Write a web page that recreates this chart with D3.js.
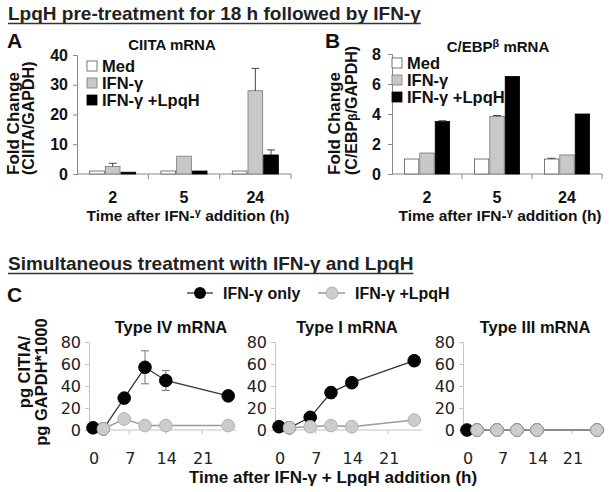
<!DOCTYPE html>
<html><head><meta charset="utf-8">
<script src="https://cdn.jsdelivr.net/npm/d3@7"></script>
<style>html,body{margin:0;padding:0;background:#fff;}svg{display:block;}</style>
</head><body>
<script>
// ---------- data ----------
const timeCats = ["2", "5", "24"];
const barSeries = ["Med", "IFN-γ", "IFN-γ +LpqH"];
const ciitaMed  = [1.0, 1.0, 1.0];
const ciitaIFN  = [2.5, 6.0, 28.0];
const ciitaLpqH = [0.6, 1.0, 6.4];
const ciitaMedErr  = [0, 0, 0];
const ciitaIFNErr  = [1.1, 0, 7.5];
const ciitaLpqHErr = [0, 0, 1.7];
const cebpMed  = [1.0, 1.0, 1.0];
const cebpIFN  = [1.4, 3.83, 1.27];
const cebpLpqH = [3.5, 6.5, 4.0];
const cebpMedErr  = [0, 0, 0.05];
const cebpIFNErr  = [0, 0.07, 0];
const cebpLpqHErr = [0.05, 0, 0];
const ciitaTicks = [0, 10, 20, 30, 40];
const cebpTicks = [0, 2, 4, 6, 8];

const hoursIFN  = [0, 2, 6, 10, 14, 26];
const hoursLpqH = [2, 6, 10, 14, 26];
const typeIV_IFN  = [2, 1, 29, 57, 45, 31];
const typeIV_IFNErr = [0, 0, 0, 15, 9, 0];
const typeIV_LpqH = [1, 10, 4, 4, 4];
const typeI_IFN  = [3, 2, 11.5, 34, 43, 63];
const typeI_IFNErr = [0, 0, 2, 5, 0, 0];
const typeI_LpqH = [2, 3, 4, 3, 9];
const typeIII_IFN  = [0, 0, 0, 0, 0, 0];
const typeIII_LpqH = [0, 0, 0, 0, 0];
const cYTicks = [0, 20, 40, 60, 80];
const cXTicks = [0, 7, 14, 21];
const lineSeries = ["IFN-γ only", "IFN-γ +LpqH"];

// ---------- setup ----------
const W = 609, H = 492;
const svg = d3.select("body").append("svg").attr("width", W).attr("height", H);
const FB = "'Liberation Sans', Arial, Helvetica, sans-serif";
const FR = "'DejaVu Sans', Verdana, sans-serif";

function txt(x, y, s, size, opts = {}) {
  const t = svg.append("text").attr("x", x).attr("y", y)
    .attr("font-family", opts.family || FB)
    .attr("font-weight", opts.weight || "bold")
    .attr("font-size", size).attr("fill", opts.fill || "#111")
    .attr("text-anchor", opts.anchor || "start");
  if (opts.rotate) t.attr("transform", `rotate(-90,${x},${y})`);
  if (opts.baseline) t.attr("dominant-baseline", opts.baseline);
  if (Array.isArray(s)) {
    s.forEach(p => {
      const ts = t.append("tspan").text(p.t);
      if (p.size) ts.attr("font-size", p.size);
      if (p.dy) ts.attr("dy", p.dy);
    });
  } else t.text(s);
  return t;
}

// section titles with underline
function sectionTitle(x, y, s) {
  const t = txt(x, y, s, 19, {fill: "#222"});
  const w = t.node().getComputedTextLength();
  svg.append("line").attr("x1", x).attr("x2", x + w).attr("y1", y + 3.5).attr("y2", y + 3.5)
    .attr("stroke", "#333").attr("stroke-width", 1.6);
}
sectionTitle(8, 20, "LpqH pre-treatment for 18 h followed by IFN-γ");
sectionTitle(8, 270, "Simultaneous treatment with IFN-γ and LpqH");

txt(7, 48, "A", 21);
txt(325, 48, "B", 21);
txt(7, 302, "C", 21);

// ---------- bar panels ----------
const fills = ["#ffffff", "#c8c8c8", "#000000"];
const strokes = ["#555", "#777", "#000"];

function barPanel(cfg) {
  const x = d3.scaleBand().domain(timeCats).range([cfg.x0, cfg.x1]).paddingInner(0.34).paddingOuter(0.17);
  const xs = d3.scaleBand().domain(barSeries).range([0, x.bandwidth()]);
  const y = d3.scaleLinear().domain([0, cfg.ticks[cfg.ticks.length - 1]]).range([cfg.yb, cfg.yt]);
  const g = svg.append("g");
  // y axis
  const ya = g.append("g").attr("transform", `translate(${cfg.x0},0)`)
    .call(d3.axisLeft(y).tickValues(cfg.ticks).tickSize(4).tickFormat(d3.format("d")));
  ya.select(".domain").attr("stroke", "#888");
  ya.selectAll(".tick line").attr("stroke", "#888");
  ya.selectAll(".tick text").attr("font-family", FB).attr("font-weight", "bold").attr("font-size", 16)
    .attr("fill", "#111").attr("x", -cfg.labGap);
  // x baseline with category separators
  g.append("line").attr("x1", cfg.x0).attr("x2", cfg.x1).attr("y1", y(0)).attr("y2", y(0)).attr("stroke", "#888");
  const seps = timeCats.map(c => x(c) - x.step() * x.paddingInner() / 2).slice(1).concat([cfg.x1]);
  seps.forEach(sx => g.append("line").attr("x1", sx).attr("x2", sx).attr("y1", y(0)).attr("y2", y(0) + 5).attr("stroke", "#888"));
  timeCats.forEach(c => txt(x(c) + x.bandwidth() / 2, 203, c, 16, {anchor: "middle"}));
  // bars
  cfg.vals.forEach((arr, si) => {
    arr.forEach((v, ci) => {
      const bx = x(timeCats[ci]) + xs(barSeries[si]);
      g.append("rect").attr("x", bx + 0.5).attr("y", y(v)).attr("width", xs.bandwidth() - 1)
        .attr("height", y(0) - y(v)).attr("fill", fills[si]).attr("stroke", strokes[si]).attr("stroke-width", 0.8);
      const e = cfg.errs[si][ci];
      if (e > 0) {
        const cx = bx + xs.bandwidth() / 2;
        g.append("line").attr("x1", cx).attr("x2", cx).attr("y1", y(v)).attr("y2", y(v + e)).attr("stroke", "#444").attr("stroke-width", 1);
        g.append("line").attr("x1", cx - 4).attr("x2", cx + 4).attr("y1", y(v + e)).attr("y2", y(v + e)).attr("stroke", "#444").attr("stroke-width", 1);
      }
    });
  });
  // legend
  barSeries.forEach((s, i) => {
    const cy = cfg.legY + i * 17;
    g.append("rect").attr("x", cfg.legX).attr("y", cy - 5).attr("width", 10).attr("height", 10)
      .attr("fill", fills[i]).attr("stroke", strokes[i]).attr("stroke-width", 0.8);
    txt(cfg.legX + 15, cy + 6, s, 16.5);
  });
  // x title
  txt(cfg.xTitleX, 221, [{t: "Time after IFN-"}, {t: "γ", size: 11, dy: -5}, {t: " addition (h)", dy: 5}], 15.5, {anchor: "middle"});
}

barPanel({x0: 77, x1: 291, yb: 174, yt: 55, ticks: ciitaTicks, labGap: 9,
  vals: [ciitaMed, ciitaIFN, ciitaLpqH], errs: [ciitaMedErr, ciitaIFNErr, ciitaLpqHErr],
  legX: 87, legY: 66, xTitleX: 188});
barPanel({x0: 392, x1: 602, yb: 174, yt: 54, ticks: cebpTicks, labGap: 11,
  vals: [cebpMed, cebpIFN, cebpLpqH], errs: [cebpMedErr, cebpIFNErr, cebpLpqHErr],
  legX: 392, legY: 63, xTitleX: 500});

txt(172, 50, "CIITA mRNA", 15, {anchor: "middle"});
txt(498, 52, [{t: "C/EBP"}, {t: "β", size: 11, dy: -5}, {t: " mRNA", dy: 5}], 15, {anchor: "middle"});

txt(19, 175, "Fold Change", 17, {rotate: true});
txt(34, 175, "(CIITA/GAPDH)", 16, {rotate: true});
txt(340, 175, "Fold Change", 17, {rotate: true});
txt(357, 175, [{t: "(C/EBP"}, {t: "β", size: 12}, {t: "/GAPDH)"}], 16, {rotate: true});

// ---------- line panels ----------
function linePanel(cfg) {
  const x = d3.scaleLinear().domain([0, 21]).range([cfg.x0, cfg.x0 + 21 * cfg.k]);
  const y = d3.scaleLinear().domain([0, 80]).range([430, 342]);
  const g = svg.append("g");
  const ax = cfg.x0 - 4;
  const ya = g.append("g").attr("transform", `translate(${ax},0)`)
    .call(d3.axisLeft(y).tickValues(cYTicks).tickSize(4));
  ya.select(".domain").attr("stroke", "#c4c4c4");
  ya.selectAll(".tick line").attr("stroke", "#c4c4c4");
  ya.selectAll(".tick text").attr("font-family", FR).attr("font-size", 16).attr("fill", "#222").attr("x", -8);
  g.append("line").attr("x1", ax).attr("x2", x(27.5)).attr("y1", y(0)).attr("y2", y(0)).attr("stroke", "#c4c4c4");
  cXTicks.slice(1).forEach(t => g.append("line").attr("x1", x(t)).attr("x2", x(t)).attr("y1", y(0)).attr("y2", y(0) + 4).attr("stroke", "#c4c4c4"));
  cXTicks.forEach(t => txt(x(t) + 1, 464, String(t), 16, {family: FR, weight: "normal", anchor: "middle", fill: "#222"}));
  const line = d3.line().x(d => x(d[0])).y(d => y(d[1]));
  // IFN only (black)
  const dA = hoursIFN.map((h, i) => [h, cfg.ifn[i]]);
  g.append("path").attr("d", line(dA)).attr("fill", "none").attr("stroke", "#333").attr("stroke-width", 1.3);
  if (cfg.err) cfg.err.forEach((e, i) => {
    if (e > 0) {
      const cx = x(hoursIFN[i]);
      g.append("line").attr("x1", cx).attr("x2", cx).attr("y1", y(cfg.ifn[i] - e)).attr("y2", y(cfg.ifn[i] + e)).attr("stroke", "#777");
      [cfg.ifn[i] - e, cfg.ifn[i] + e].forEach(v => g.append("line").attr("x1", cx - 4).attr("x2", cx + 4).attr("y1", y(v)).attr("y2", y(v)).attr("stroke", "#777"));
    }
  });
  dA.forEach(d => g.append("circle").attr("cx", x(d[0])).attr("cy", y(d[1])).attr("r", 6.3).attr("fill", "#050505").attr("stroke", "#000"));
  // IFN + LpqH (grey)
  const dB = hoursLpqH.map((h, i) => [h, cfg.lpqh[i]]);
  g.append("path").attr("d", line(dB)).attr("fill", "none").attr("stroke", "#9a9a9a").attr("stroke-width", 1.5);
  dB.forEach(d => g.append("circle").attr("cx", x(d[0])).attr("cy", y(d[1])).attr("r", 6.3).attr("fill", "#cccccc").attr("stroke", "#b0b0b0"));
  txt(cfg.titleX, 333, cfg.title, 16.5, {anchor: "middle"});
}
linePanel({x0: 93, k: 5.2, ifn: typeIV_IFN, lpqh: typeIV_LpqH, err: typeIV_IFNErr, title: "Type IV mRNA", titleX: 171});
linePanel({x0: 279, k: 5.2, ifn: typeI_IFN, lpqh: typeI_LpqH, err: typeI_IFNErr, title: "Type I mRNA", titleX: 347});
linePanel({x0: 467, k: 5.0, ifn: typeIII_IFN, lpqh: typeIII_LpqH, err: null, title: "Type III mRNA", titleX: 535});

// C legend
svg.append("line").attr("x1", 187).attr("x2", 213).attr("y1", 293).attr("y2", 293).attr("stroke", "#333").attr("stroke-width", 1.3);
svg.append("circle").attr("cx", 200).attr("cy", 293).attr("r", 6).attr("fill", "#050505");
txt(223, 299, lineSeries[0], 16);
svg.append("line").attr("x1", 318).attr("x2", 345).attr("y1", 293).attr("y2", 293).attr("stroke", "#9a9a9a").attr("stroke-width", 1.5);
svg.append("circle").attr("cx", 332).attr("cy", 293).attr("r", 6).attr("fill", "#cccccc").attr("stroke", "#b0b0b0");
txt(355, 299, lineSeries[1], 16);

// C axis titles
txt(30, 372, "pg CITIA/", 16.5, {rotate: true, anchor: "middle"});
txt(47, 382, "pg GAPDH*1000", 16.5, {rotate: true, anchor: "middle"});
txt(333, 483, [{t: "Time after IFN-γ + LpqH addition (h)"}], 17, {anchor: "middle"});
</script>
</body></html>
